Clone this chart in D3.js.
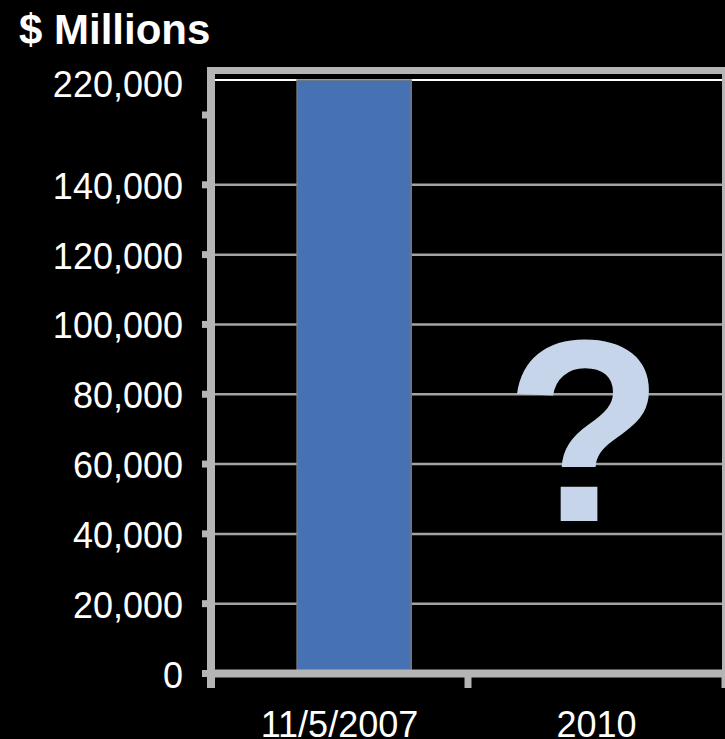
<!DOCTYPE html>
<html>
<head>
<meta charset="utf-8">
<script src="https://cdn.jsdelivr.net/npm/d3@7"></script>
<style>
  html, body { margin: 0; padding: 0; background: #000; }
  svg { display: block; }
  text { font-family: "Liberation Sans", Arial, sans-serif; fill: #fff; }
</style>
</head>
<body>
<script>
// Data
const categories = ["11/5/2007", "2010"];
const values = [220000, null];          // 2010 value unknown
const tickValues = [0, 20000, 40000, 60000, 80000, 100000, 120000, 140000, 220000];
const axisBreak = 160000;               // axis is compressed between here and the top value
const unknownMark = "?";
const yTitle = "$ Millions";

const W = 725, H = 739;
const frameColor = "#b5b5b5";
const gridColor = "#a3a3a3";

const svg = d3.select("body").append("svg")
  .attr("width", W).attr("height", H)
  .style("background", "#000");

// Broken (piecewise) y scale: 0..160k linear, then 160k..220k squeezed
const y = d3.scaleLinear()
  .domain([0, axisBreak, 220000])
  .range([673.5, 115, 80]);

const x = d3.scaleBand()
  .domain(categories)
  .range([211, 725])
  .padding(0);

const plotLeft = 215, plotRight = 725;

// Gridlines
svg.append("g")
  .selectAll("line")
  .data(tickValues.filter(v => v > 0 && v < axisBreak))
  .join("line")
  .attr("x1", plotLeft).attr("x2", plotRight)
  .attr("y1", d => y(d)).attr("y2", d => y(d))
  .attr("stroke", gridColor).attr("stroke-width", 2.5);

// Top value line
svg.append("line")
  .attr("x1", plotLeft).attr("x2", plotRight)
  .attr("y1", y(220000)).attr("y2", y(220000))
  .attr("stroke", "#fff").attr("stroke-width", 2);

// Bars
const barOffset = 0.335, barWidth = 0.444;
svg.append("g")
  .selectAll("rect")
  .data(categories.map((c, i) => ({ c, v: values[i] })).filter(d => d.v != null))
  .join("rect")
  .attr("x", d => x(d.c) + x.bandwidth() * barOffset)
  .attr("width", x.bandwidth() * barWidth)
  .attr("y", d => y(d.v))
  .attr("height", d => y(0) - y(d.v))
  .attr("fill", "#4672b3")
  .attr("stroke", "#7a7a7a")
  .attr("stroke-width", 1.5);

// Unknown value marker
categories.forEach((c, i) => {
  if (values[i] == null) {
    svg.append("text")
      .attr("x", x(c) + x.bandwidth() / 2 - 12)
      .attr("y", 521)
      .attr("text-anchor", "middle")
      .style("font-size", "260px")
      .style("font-weight", "bold")
      .style("fill", "#c6d5e9")
      .text(unknownMark);
  }
});

// Frame: top and right borders
svg.append("line")
  .attr("x1", 207).attr("x2", W).attr("y1", 70.5).attr("y2", 70.5)
  .attr("stroke", frameColor).attr("stroke-width", 7);
svg.append("line")
  .attr("x1", 725.5).attr("x2", 725.5).attr("y1", 67).attr("y2", 688)
  .attr("stroke", frameColor).attr("stroke-width", 7);

// Y axis line and ticks
svg.append("line")
  .attr("x1", 211).attr("x2", 211).attr("y1", 67).attr("y2", 688)
  .attr("stroke", frameColor).attr("stroke-width", 8);
svg.append("g")
  .selectAll("line")
  .data(tickValues.filter(v => v < 220000).concat([axisBreak]))
  .join("line")
  .attr("x1", 202).attr("x2", 211)
  .attr("y1", d => y(d)).attr("y2", d => y(d))
  .attr("stroke", frameColor).attr("stroke-width", 7);

// X axis line and ticks at category boundaries
svg.append("line")
  .attr("x1", 207).attr("x2", W).attr("y1", y(0)).attr("y2", y(0))
  .attr("stroke", frameColor).attr("stroke-width", 8);
const xBounds = categories.map(c => x(c)).concat([x.range()[1]]);
svg.append("g")
  .selectAll("line")
  .data(xBounds.slice(1))
  .join("line")
  .attr("x1", d => d).attr("x2", d => d)
  .attr("y1", y(0)).attr("y2", 688)
  .attr("stroke", frameColor).attr("stroke-width", 7);

// Y tick labels
const fmt = d3.format(",");
svg.append("g")
  .selectAll("text")
  .data(tickValues)
  .join("text")
  .attr("x", 183)
  .attr("y", d => y(d) + (d === 220000 ? 17 : 14))
  .attr("text-anchor", "end")
  .style("font-size", "36px")
  .text(d => fmt(d));

// X labels
svg.append("g")
  .selectAll("text")
  .data(categories)
  .join("text")
  .attr("x", d => x(d) + x.bandwidth() / 2)
  .attr("y", 737)
  .attr("text-anchor", "middle")
  .style("font-size", "36px")
  .text(d => d);

// Axis title
svg.append("text")
  .attr("x", 19).attr("y", 44)
  .style("font-size", "42px")
  .style("font-weight", "bold")
  .text(yTitle);
</script>
</body>
</html>
